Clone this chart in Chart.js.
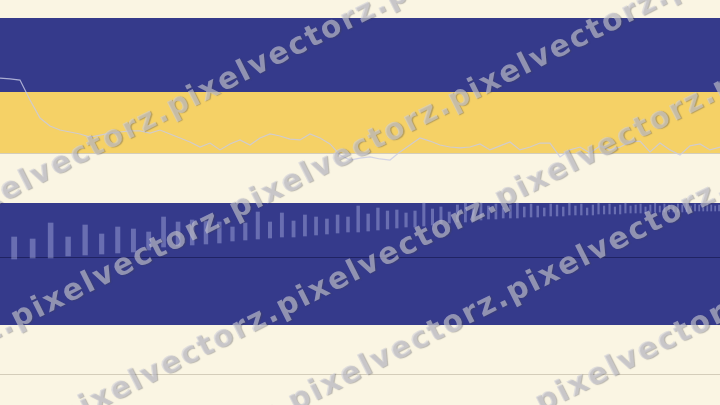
<!DOCTYPE html>
<html><head><meta charset="utf-8">
<script src="https://cdn.jsdelivr.net/npm/chart.js@4.4.1/dist/chart.umd.min.js"></script>
<style>
html,body{margin:0;padding:0;width:720px;height:405px;overflow:hidden;background:#FAF5E3}
#wrap{position:relative;width:720px;height:405px;
background:linear-gradient(to bottom,#FAF5E3 0,#FAF5E3 18px,#353A8B 18px,#353A8B 92px,#F5D166 92px,#F5D166 153px,#FAF5E3 153px,#FAF5E3 203px,#353A8B 203px,#353A8B 325px,#FAF5E3 325px,#FAF5E3 405px);}
canvas{position:absolute;left:0;top:0}
#wm{position:absolute;left:0;top:0;width:720px;height:405px;overflow:hidden;pointer-events:none}
.row{position:absolute;white-space:nowrap;font:bold 30px "DejaVu Sans";letter-spacing:2px;height:40px;line-height:40px;color:rgba(208,208,218,0.58);text-shadow:1px 1px 1px rgba(70,70,80,0.35);transform-origin:0 50%;transform:rotate(-26.57deg)}
</style></head>
<body>
<div id="wrap">
<canvas id="c" width="720" height="405"></canvas>
<div id="wm">
<div class="row" style="left:-269px;top:307px">pixelvectorz.pixelvectorz.pixelvectorz.pixelvectorz.pixelvectorz.</div>
<div class="row" style="left:-206px;top:409px">pixelvectorz.pixelvectorz.pixelvectorz.pixelvectorz.pixelvectorz.</div>
<div class="row" style="left:-159px;top:507px">pixelvectorz.pixelvectorz.pixelvectorz.pixelvectorz.pixelvectorz.</div>
<div class="row" style="left:71px;top:492px">pixelvectorz.pixelvectorz.pixelvectorz.pixelvectorz.</div>
<div class="row" style="left:318px;top:493px">pixelvectorz.pixelvectorz.pixelvectorz.</div>
</div>
</div>
<script>
// Faint line series (index scale: 0 = lower guide, 100 = upper guide)
const lineValues = [133.9,133.5,133.0,124.0,115.8,112.2,110.4,109.5,108.6,107.2,
  108.1,109.0,109.5,110.0,110.0,109.0,110.4,108.6,106.8,105.0,
  102.7,104.5,101.4,104.1,105.9,103.6,106.8,108.6,107.7,106.3,
  105.9,108.6,106.8,104.1,99.1,96.8,97.7,98.2,97.3,96.8,
  100.5,103.6,106.8,105.4,103.6,102.7,102.3,102.7,104.1,101.4,
  103.2,105.0,101.4,102.7,104.5,104.5,98.2,101.4,102.7,100.0,
  103.2,101.4,102.7,105.0,105.4,100.5,104.5,101.4,99.1,103.2,
  104.1,101.4,102.7];
const guideLevels = [0, 100];

// Floating bars: lower and upper value of each bar (0 = dark base line)
const barBottoms = [-2,-1,-1,1,2,3,4,5,7,10,11,12,13,14,16,17,18,19,20,20,
  21,22,23,24,25,25,26,27,28,29,30,30,31,32,33,34,35,35,36,37,
  38,38,39,39,39,40,40,40,41,41,41,41,42,42,42,42,42,43,43,43,
  43,43,44,44,44,44,44,44,45,45,45,45,45,45,45,45,46,46,46,46,
  46,46,46,46];
const barTops = [20,18,34,20,32,23,30,28,25,40,35,37,36,35,30,34,45,35,44,36,
  42,40,38,42,40,51,43,49,46,47,44,46,54,48,50,45,52,54,49,54,
  51,53,49,52,54,50,53,51,49,53,52,50,54,51,53,49,52,54,51,53,
  50,52,54,51,52,53,50,52,54,51,53,52,50,53,52,54,51,53,52,51,
  53,52,51,52];
const barBaseLevel = 0;

const DEPTH = 2.24;
class PerspectiveScale extends Chart.LinearScale {
  getPixelForValue(value) {
    const t = (value - this.min) / (this.max - this.min);
    const f = t * DEPTH / (1 + t * (DEPTH - 1));
    return this.left + f * this.width;
  }
  getValueForPixel(pixel) {
    const f = (pixel - this.left) / this.width;
    const t = f / (DEPTH - f * (DEPTH - 1));
    return this.min + t * (this.max - this.min);
  }
}
PerspectiveScale.id = 'perspective';
PerspectiveScale.defaults = Chart.LinearScale.defaults;
Chart.register(PerspectiveScale);

const guides = {
  id: 'guides',
  beforeDatasetsDraw(chart) {
    const {ctx, chartArea: a, scales: s} = chart;
    ctx.save();
    ctx.lineWidth = 1;
    ctx.strokeStyle = 'rgba(140,132,110,0.35)';
    guideLevels.forEach(v => {
      const y = Math.round(s.yLine.getPixelForValue(v)) + 0.5;
      ctx.beginPath(); ctx.moveTo(a.left, y); ctx.lineTo(a.right, y); ctx.stroke();
    });
    ctx.strokeStyle = 'rgba(25,28,85,0.75)';
    const yb = Math.round(s.yBar.getPixelForValue(barBaseLevel)) + 0.5;
    ctx.beginPath(); ctx.moveTo(a.left, yb); ctx.lineTo(a.right, yb); ctx.stroke();
    ctx.restore();
  }
};

new Chart(document.getElementById('c'), {
  type: 'bar',
  data: {
    datasets: [
      {
        type: 'line',
        data: lineValues.map((v, i) => ({x: i, y: v})),
        xAxisID: 'xLine', yAxisID: 'yLine',
        borderColor: 'rgba(200,203,230,0.8)', borderWidth: 1.2,
        pointRadius: 0, tension: 0, fill: false
      },
      {
        type: 'bar',
        data: barTops.map((t, i) => ({x: i, y: [barBottoms[i], t]})),
        xAxisID: 'xBar', yAxisID: 'yBar',
        backgroundColor: 'rgba(178,183,230,0.42)', borderWidth: 0,
        barThickness: 'flex', barPercentage: 0.55, categoryPercentage: 1
      }
    ]
  },
  options: {
    responsive: false, animation: false, devicePixelRatio: 1,
    layout: {padding: 0},
    plugins: {legend: {display: false}, tooltip: {enabled: false}},
    scales: {
      xLine: {type: 'linear', display: false, offset: false, min: 0, max: lineValues.length - 1},
      yLine: {type: 'linear', display: false, min: -14.03, max: 169.23},
      xBar: {type: 'perspective', display: false, offset: false, min: -0.5, max: barTops.length - 0.5},
      yBar: {type: 'linear', display: false, min: -148, max: 257}
    }
  },
  plugins: [guides]
});
</script>
</body></html>
